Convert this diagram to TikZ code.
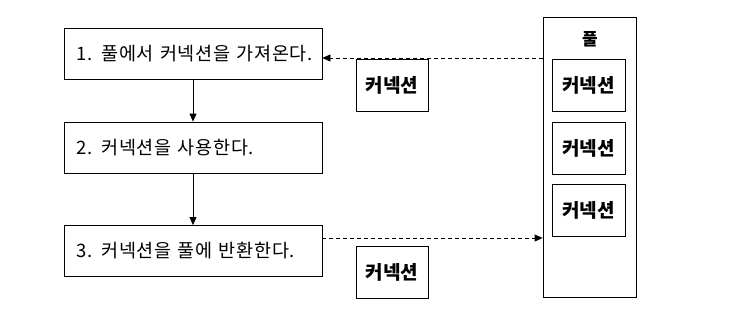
\documentclass[tikz,border=0pt]{standalone}
\usepackage{fontspec}
\setmainfont{Noto Sans CJK KR}[WordSpace=1.6]
\newfontfamily\stepfont{Noto Sans CJK KR}[WordSpace=1.6,LetterSpace=4]
\usetikzlibrary{arrows.meta}
\begin{document}
\begin{tikzpicture}[x=1pt,y=-1pt,
  stepbox/.style={draw,line width=0.8pt,inner xsep=12pt,inner ysep=0pt,text width=234pt,align=left,minimum height=51pt,font=\stepfont\fontsize{18.5}{22}\selectfont},
  connbox/.style={draw,line width=0.8pt,inner sep=0pt,minimum width=72pt,minimum height=52pt,font=\fontsize{19}{22}\selectfont\bfseries},
  poolbox/.style={draw,line width=0.8pt,inner sep=0pt,minimum width=93pt,minimum height=280pt},
  flow/.style={line width=0.8pt,-{Triangle[length=8pt,width=7pt]}},
  dflow/.style={line width=0.8pt,dash pattern=on 4pt off 3pt,-{Triangle[length=8pt,width=7pt]}}]
\useasboundingbox (0,0) rectangle (754,321);
\node[stepbox] (b1) at (193,54) {\mbox{1. 풀에서 커넥션을 가져온다.}};
\node[stepbox] (b2) at (193,147.5) {\mbox{2. 커넥션을 사용한다.}};
\node[stepbox] (b3) at (193,251) {\mbox{3. 커넥션을 풀에 반환한다.}};
\node[connbox] (c1) at (392,85) {커넥션};
\node[connbox] (c2) at (392,272) {커넥션};
\node[poolbox] (pool) at (589.5,157) {};
\node[font=\fontsize{17}{20}\selectfont\bfseries] (pl) at (590,39) {풀};
\node[connbox,minimum width=73pt] (p1) at (588.5,85) {커넥션};
\node[connbox,minimum width=73pt] (p2) at (588.5,148.5) {커넥션};
\node[connbox,minimum width=73pt] (p3) at (588.5,210.5) {커넥션};
\draw[flow] (b1) -- (b2);
\draw[flow] (b2) -- (b3);
\coordinate (a1) at ([yshift=-4pt]b1.east);
\coordinate (a3) at ([yshift=13pt]b3.east);
\draw[dflow] (pool.west |- a1) -- (a1);
\draw[dflow] (a3) -- (pool.west |- a3);
\end{tikzpicture}
\end{document}
